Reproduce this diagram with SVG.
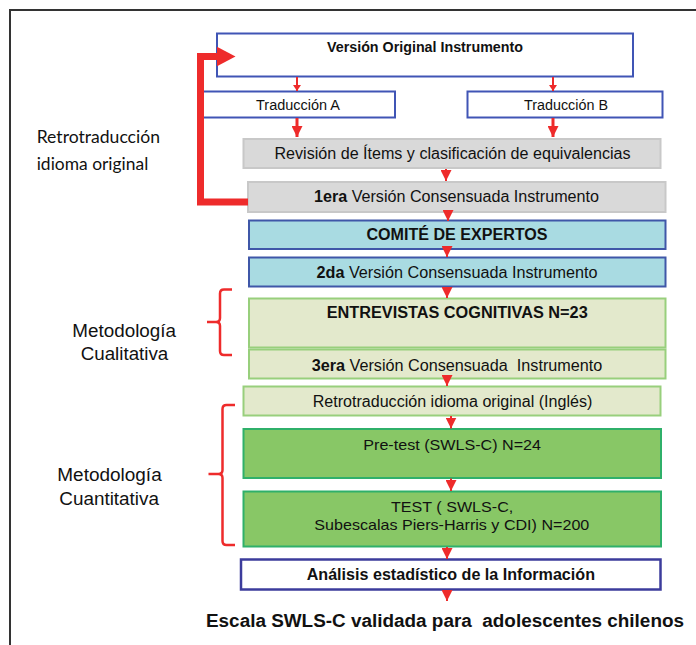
<svg xmlns="http://www.w3.org/2000/svg" width="696" height="645" viewBox="0 0 696 645">
<style>
  text { font-family: "Liberation Sans", Arial, sans-serif; fill: #111; }
  .b { font-weight: bold; }
  .side { font-size: 17.5px; }
  .cal { font-family: Lato, "Liberation Sans", sans-serif; font-size: 17px; }
  .blue { fill: #fff; stroke: #4055B5; stroke-width: 2; }
  .gray { fill: #D9D9D9; stroke: #C8C8C8; stroke-width: 2; }
  .cyan { fill: #A9DBE2; stroke: #3F57A8; stroke-width: 2; }
  .olive { fill: #E3E9CC; stroke: #98CF7C; stroke-width: 2; }
  .green { fill: #88C766; stroke: #2FB06A; stroke-width: 2; }
  .final { fill: #fff; stroke: #3C3C9C; stroke-width: 2.5; }
  .arr { stroke: #EE2B2B; fill: none; }
  .brace { stroke: #EE2B2B; fill: none; stroke-width: 2.5; }
</style>
<defs>
  <marker id="hs" markerUnits="userSpaceOnUse" markerWidth="6" markerHeight="8" refX="6" refY="4" orient="auto" viewBox="0 0 6 8">
    <path d="M0,0 L6,4 L0,8 z" fill="#EE2B2B"/>
  </marker>
  <marker id="hm" markerUnits="userSpaceOnUse" markerWidth="11" markerHeight="11" refX="11" refY="5.5" orient="auto" viewBox="0 0 11 11">
    <path d="M0,0 L11,5.5 L0,11 z" fill="#EE2B2B"/>
  </marker>
  <marker id="hl" markerUnits="userSpaceOnUse" markerWidth="19" markerHeight="20" refX="0.5" refY="10" orient="auto" viewBox="0 0 19 20">
    <path d="M0,0 L19,10 L0,20 z" fill="#EE2B2B"/>
  </marker>
</defs>

<rect x="10" y="10" width="720" height="700" fill="none" stroke="#333" stroke-width="2"/>

<g id="label-retro">
  <text class="cal" x="36.7" y="143.3" textLength="123.3" lengthAdjust="spacingAndGlyphs">Retrotraducción</text>
  <text class="cal" x="36.7" y="170" textLength="111.6" lengthAdjust="spacingAndGlyphs">idioma original</text>
</g>
<g id="label-cualitativa">
  <text class="side" x="72.3" y="336.7" textLength="103.7" lengthAdjust="spacingAndGlyphs">Metodología</text>
  <text class="side" x="80.7" y="360" textLength="87.6" lengthAdjust="spacingAndGlyphs">Cualitativa</text>
  <path class="brace" d="M232,289.5 L224,289.5 Q220,289.5 220,293.5 L220,318 Q220,322 216,322 L207,322 M216,322 Q220,322 220,326 L220,351 Q220,355 224,355 L232,355"/>
</g>
<g id="label-cuantitativa">
  <text class="side" x="57.3" y="480.7" textLength="104.4" lengthAdjust="spacingAndGlyphs">Metodología</text>
  <text class="side" x="59.3" y="505" textLength="99.7" lengthAdjust="spacingAndGlyphs">Cuantitativa</text>
  <path class="brace" d="M235,405 L226.5,405 Q222.5,405 222.5,409 L222.5,470 Q222.5,474 218.5,474 L208.5,474 M218.5,474 Q222.5,474 222.5,478 L222.5,541 Q222.5,545 226.5,545 L235,545"/>
</g>

<g id="n-original">
  <rect class="blue" x="217" y="33.5" width="416" height="43"/>
  <text class="b" font-size="14" x="327" y="52" textLength="196" lengthAdjust="spacingAndGlyphs">Versión Original Instrumento</text>
</g>
<g id="n-tradA">
  <rect class="blue" x="201" y="91.5" width="194" height="26" stroke-width="1.5"/>
  <text font-size="14" x="256" y="110" textLength="84" lengthAdjust="spacingAndGlyphs">Traducción A</text>
</g>
<g id="n-tradB">
  <rect class="blue" x="467.5" y="91.5" width="195" height="26" stroke-width="1.5"/>
  <text font-size="14" x="524" y="110" textLength="84" lengthAdjust="spacingAndGlyphs">Traducción B</text>
</g>
<g id="n-revision">
  <rect class="gray" x="243.5" y="139" width="417" height="29"/>
  <text font-size="16" x="274.5" y="158.5" textLength="356" lengthAdjust="spacingAndGlyphs">Revisión de Ítems y clasificación de equivalencias</text>
</g>
<g id="n-v1">
  <rect class="gray" x="248" y="182" width="417.5" height="30"/>
  <text font-size="16" x="314" y="202" textLength="285" lengthAdjust="spacingAndGlyphs"><tspan class="b">1era</tspan> Versión Consensuada Instrumento</text>
</g>
<g id="n-comite">
  <rect class="cyan" x="249" y="220.5" width="416.5" height="28.5"/>
  <text class="b" font-size="16" x="366.5" y="240" textLength="181" lengthAdjust="spacingAndGlyphs">COMITÉ DE EXPERTOS</text>
</g>
<g id="n-v2">
  <rect class="cyan" x="249" y="257.5" width="416.5" height="29"/>
  <text font-size="16" x="316.5" y="277.7" textLength="281" lengthAdjust="spacingAndGlyphs"><tspan class="b">2da</tspan> Versión Consensuada Instrumento</text>
</g>
<g id="n-entrevistas">
  <rect class="olive" x="249" y="298.5" width="416.5" height="49"/>
  <text class="b" font-size="16" x="326.7" y="317.5" textLength="261" lengthAdjust="spacingAndGlyphs">ENTREVISTAS COGNITIVAS N=23</text>
</g>
<g id="n-v3">
  <rect class="olive" x="249" y="349.5" width="416.5" height="29" stroke="#8FCC6E"/>
  <text font-size="16" x="311.7" y="370.5" textLength="290.6" lengthAdjust="spacingAndGlyphs" xml:space="preserve"><tspan class="b">3era</tspan> Versión Consensuada  Instrumento</text>
</g>
<g id="n-retro">
  <rect class="olive" x="243.5" y="386.5" width="417" height="29" stroke="#8FCC6E"/>
  <text font-size="16" x="312.7" y="406.5" textLength="279.6" lengthAdjust="spacingAndGlyphs">Retrotraducción idioma original (Inglés)</text>
</g>
<g id="n-pretest">
  <rect class="green" x="243.5" y="429" width="417.5" height="49"/>
  <text font-size="15" x="363.3" y="450" textLength="177.7" lengthAdjust="spacingAndGlyphs">Pre-test (SWLS-C) N=24</text>
</g>
<g id="n-test">
  <rect class="green" x="243.5" y="491.5" width="417.5" height="55"/>
  <text font-size="15" x="391" y="511.7" textLength="122.3" lengthAdjust="spacingAndGlyphs">TEST ( SWLS-C,</text>
  <text font-size="15" x="314.3" y="530" textLength="275" lengthAdjust="spacingAndGlyphs">Subescalas Piers-Harris y CDI) N=200</text>
</g>
<g id="n-analisis">
  <rect class="final" x="241" y="559.5" width="419.5" height="30"/>
  <text class="b" font-size="16" x="306.7" y="580" textLength="288.3" lengthAdjust="spacingAndGlyphs">Análisis estadístico de la Información</text>
</g>
<g id="n-result">
  <text class="b" font-size="18" x="206" y="626.7" textLength="478" lengthAdjust="spacingAndGlyphs" xml:space="preserve">Escala SWLS-C validada para  adolescentes chilenos</text>
</g>

<g id="connectors">
  <line class="arr" x1="297" y1="77" x2="297" y2="91" stroke-width="2" marker-end="url(#hs)"/>
  <line class="arr" x1="553" y1="77" x2="553" y2="91" stroke-width="2" marker-end="url(#hs)"/>
  <line class="arr" x1="297" y1="118" x2="297" y2="137" stroke-width="3" marker-end="url(#hm)"/>
  <line class="arr" x1="553" y1="118" x2="553" y2="137" stroke-width="3" marker-end="url(#hm)"/>
  <line class="arr" x1="446" y1="169" x2="446" y2="181" stroke-width="2" marker-end="url(#hm)"/>
  <line class="arr" x1="448" y1="212" x2="448" y2="221" stroke-width="2" marker-end="url(#hm)"/>
  <line class="arr" x1="447" y1="249" x2="447" y2="257" stroke-width="2" marker-end="url(#hm)"/>
  <line class="arr" x1="447" y1="287" x2="447" y2="298" stroke-width="2" marker-end="url(#hm)"/>
  <line class="arr" x1="447" y1="379" x2="447" y2="386" stroke-width="2" marker-end="url(#hm)"/>
  <line class="arr" x1="451" y1="416" x2="451" y2="428.5" stroke-width="2" marker-end="url(#hm)"/>
  <line class="arr" x1="451" y1="478.5" x2="451" y2="491" stroke-width="2" marker-end="url(#hm)"/>
  <line class="arr" x1="447" y1="547" x2="447" y2="559" stroke-width="2" marker-end="url(#hm)"/>
  <line class="arr" x1="447" y1="590" x2="447" y2="601" stroke-width="2" marker-end="url(#hm)"/>
  <path class="arr" d="M248,202 L200.5,202 L200.5,56.5 L217,56.5" stroke-width="7" marker-end="url(#hl)"/>
</g>
</svg>
